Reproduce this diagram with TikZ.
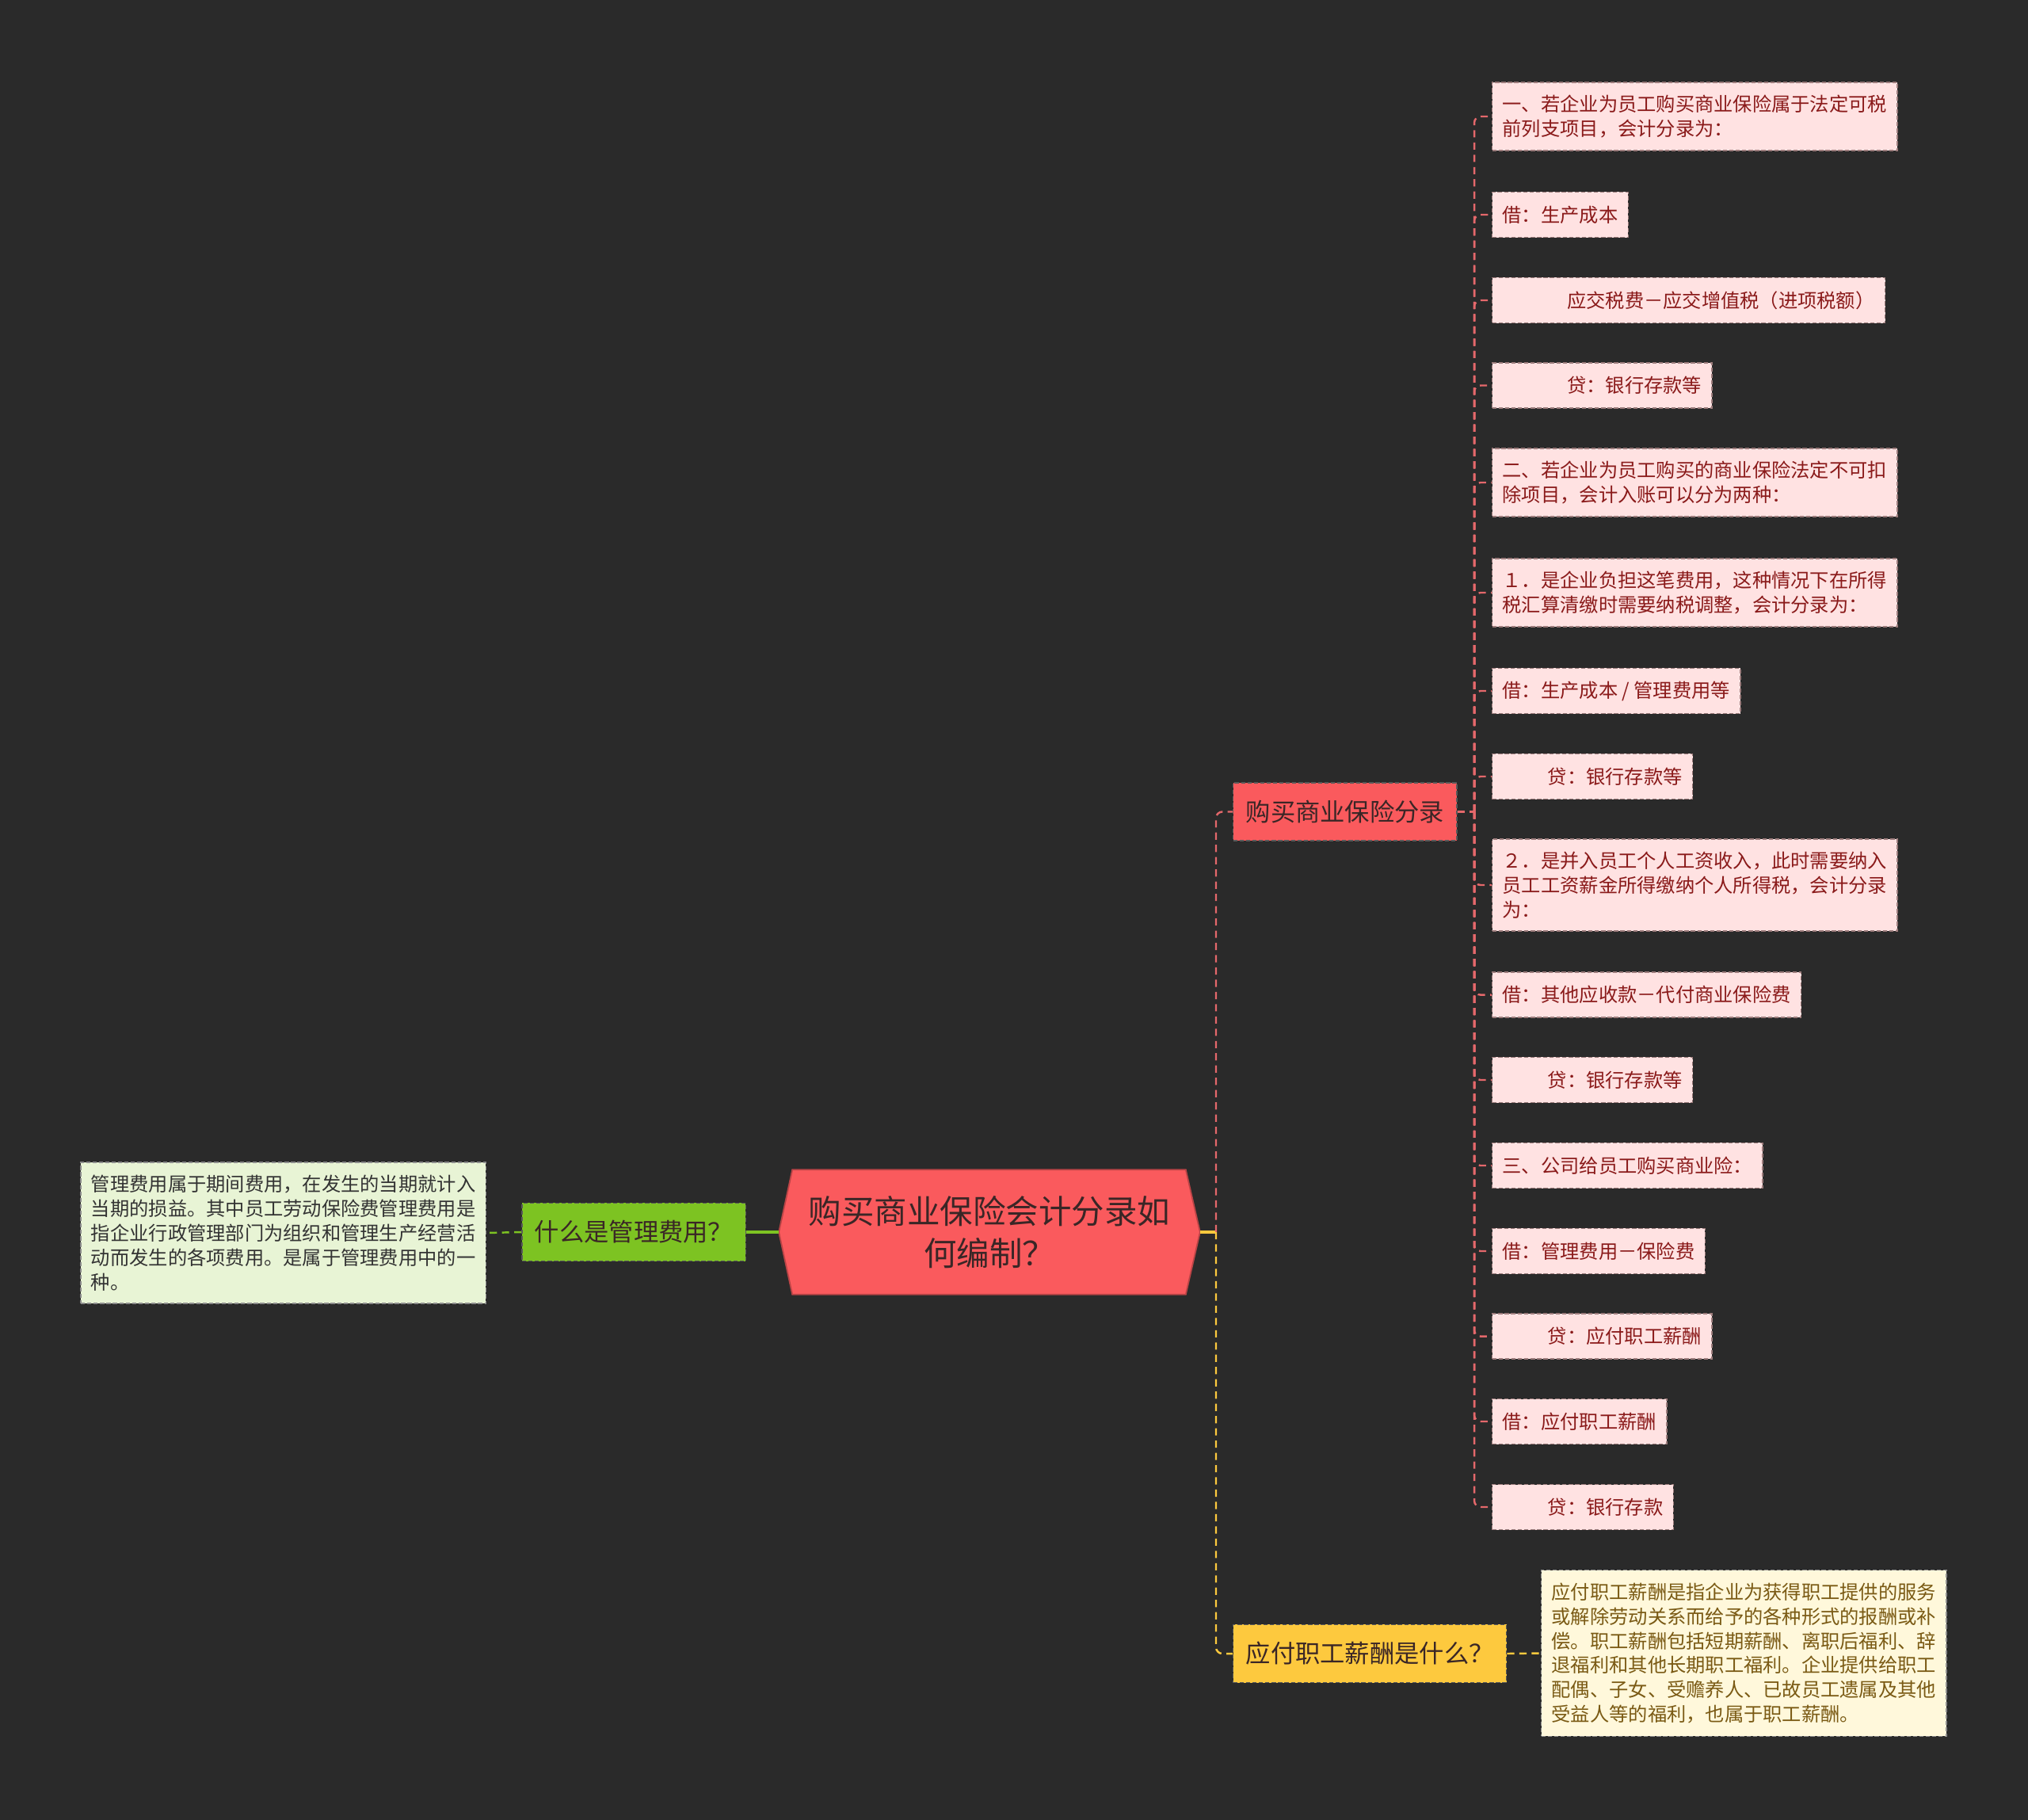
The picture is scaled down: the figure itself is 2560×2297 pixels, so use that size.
\documentclass[tikz,border=0pt]{standalone}
\usepackage{fontspec}
\setmainfont{Noto Sans CJK SC}
\usetikzlibrary{backgrounds}

\definecolor{achtergrond}{HTML}{2A2A2A}
\definecolor{hoofdrood}{HTML}{FA5A5D}
\definecolor{donkertekst}{HTML}{3A2626}
\definecolor{bladroze}{HTML}{FFE2E2}
\definecolor{bladtekst}{HTML}{8A1A1A}
\definecolor{bladrand}{HTML}{9C7C7C}
\definecolor{lijnrood}{HTML}{E4686B}
\definecolor{groen}{HTML}{7DC322}
\definecolor{groennoot}{HTML}{E8F4D5}
\definecolor{geel}{HTML}{FDC93E}
\definecolor{geelnoot}{HTML}{FFF8DB}
\definecolor{geeltekst}{HTML}{7A5A14}

\newcommand{\hoofdfont}{\fontsize{11.8pt}{15.3pt}\selectfont}
\newcommand{\takfont}{\fontsize{8.9pt}{11pt}\selectfont}
\newcommand{\bladfont}{\fontsize{6.9pt}{8.8pt}\selectfont}

\begin{document}
\begin{tikzpicture}[x=0.01cm, y=-0.01cm,
  hoofd/.style={minimum width=5.30cm, minimum height=1.56cm, align=center,
    text=donkertekst, font=\hoofdfont},
  hoofdvorm/.style={fill=hoofdrood, draw=hoofdrood!75!black, line width=0.5pt},
  tak/.style={fill=#1, draw=black!65, dash pattern=on 1.5pt off 0.8pt,
    line width=0.4pt, text=donkertekst, font=\takfont,
    inner xsep=0.16cm, minimum height=0.73cm},
  blad/.style={fill=bladroze, draw=bladrand, dash pattern=on 1.5pt off 0.8pt,
    line width=0.4pt, text=bladtekst, font=\bladfont, align=left,
    inner xsep=0.13cm, inner ysep=0.16cm, minimum height=0.57cm, anchor=west},
  noot/.style={fill=#1, draw=black!45, dash pattern=on 1.5pt off 0.8pt,
    line width=0.4pt, font=\bladfont, align=left,
    inner xsep=0.13cm, inner ysep=0.16cm},
  verbinding/.style={line width=0.7pt, dash pattern=on 2.6pt off 1.8pt,
    rounded corners=0.08cm}]

  \useasboundingbox (0,0) rectangle (2560,2297);

  % Hoofdknoop
  \node[hoofd] (root) at (1249,1555) {购买商业保险会计分录如\\何编制？};

  % Takken
  \node[tak=hoofdrood, anchor=west] (ins) at (1556,1024.5) {购买商业保险分录};
  \node[tak=geel, anchor=west] (pay) at (1556,2087) {应付职工薪酬是什么？};
  \node[tak=groen, anchor=east] (mgmt) at (942,1555) {什么是管理费用？};

  % Toelichtingen
  \node[noot=groennoot, text=black!80, anchor=east] (mgmtnote) at (614,1556)
    {管理费用属于期间费用，在发生的当期就计入\\
     当期的损益。其中员工劳动保险费管理费用是\\
     指企业行政管理部门为组织和管理生产经营活\\
     动而发生的各项费用。是属于管理费用中的一\\
     种。};
  \node[noot=geelnoot, text=geeltekst, anchor=west] (paynote) at (1945,2086.5)
    {应付职工薪酬是指企业为获得职工提供的服务\\
     或解除劳动关系而给予的各种形式的报酬或补\\
     偿。职工薪酬包括短期薪酬、离职后福利、辞\\
     退福利和其他长期职工福利。企业提供给职工\\
     配偶、子女、受赡养人、已故员工遗属及其他\\
     受益人等的福利，也属于职工薪酬。};

  % Bladeren
  \node[blad] (b1) at (1883,147)
    {一、若企业为员工购买商业保险属于法定可税\\前列支项目，会计分录为：};
  \node[blad] (b2) at (1883,271) {借：生产成本};
  \node[blad] (b3) at (1883,379) {\hspace*{3.36em}应交税费－应交增值税（进项税额）};
  \node[blad] (b4) at (1883,486.5) {\hspace*{3.36em}贷：银行存款等};
  \node[blad] (b5) at (1883,609)
    {二、若企业为员工购买的商业保险法定不可扣\\除项目，会计入账可以分为两种：};
  \node[blad] (b6) at (1883,748)
    {１．是企业负担这笔费用，这种情况下在所得\\税汇算清缴时需要纳税调整，会计分录为：};
  \node[blad] (b7) at (1883,872) {借：生产成本 / 管理费用等};
  \node[blad] (b8) at (1883,980) {\hspace*{2.35em}贷：银行存款等};
  \node[blad] (b9) at (1883,1117)
    {２．是并入员工个人工资收入，此时需要纳入\\员工工资薪金所得缴纳个人所得税，会计分录\\为：};
  \node[blad] (b10) at (1883,1255.6) {借：其他应收款－代付商业保险费};
  \node[blad] (b11) at (1883,1363) {\hspace*{2.35em}贷：银行存款等};
  \node[blad] (b12) at (1883,1471) {三、公司给员工购买商业险：};
  \node[blad] (b13) at (1883,1579) {借：管理费用－保险费};
  \node[blad] (b14) at (1883,1686.6) {\hspace*{2.35em}贷：应付职工薪酬};
  \node[blad] (b15) at (1883,1794) {借：应付职工薪酬};
  \node[blad] (b16) at (1883,1902) {\hspace*{2.35em}贷：银行存款};

  % Achtergrond en hoofdvorm
  \begin{pgfonlayer}{background}
    \fill[achtergrond] (0,0) rectangle (2560,2297);
    \filldraw[hoofdvorm] (root.west) -- ([xshift=0.17cm]root.north west)
      -- ([xshift=-0.18cm]root.north east) -- (root.east)
      -- ([xshift=-0.18cm]root.south east) -- ([xshift=0.17cm]root.south west)
      -- cycle;
  \end{pgfonlayer}

  % Stampunten
  \coordinate (stam) at (1535,1555);
  \coordinate (rstam) at (1861,1024.5);

  % Verbindingen
  \draw[groen, line width=0.9pt] (root.west) -- (mgmt.east);
  \draw[verbinding, groen] (mgmt.west) -- (mgmtnote.east);
  \draw[geel, line width=0.9pt] (root.east) -- (stam);
  \draw[verbinding, lijnrood] (stam) |- (ins.west);
  \draw[verbinding, geel] (stam) |- (pay.west);
  \draw[verbinding, geel] (pay.east) -- (paynote.west);
  \draw[verbinding, lijnrood] (ins.east) -- (rstam);
  \foreach \i in {1,...,16}
    \draw[verbinding, lijnrood] (rstam) |- (b\i.west);

\end{tikzpicture}
\end{document}
